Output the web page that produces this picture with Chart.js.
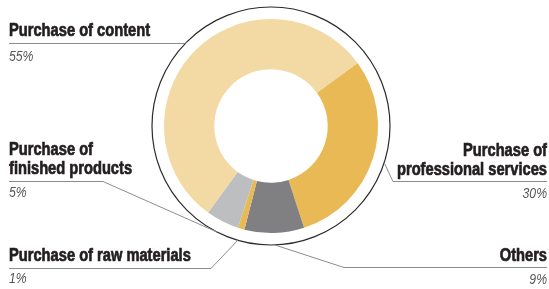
<!DOCTYPE html>
<html>
<head>
<meta charset="utf-8">
<script src="https://cdn.jsdelivr.net/npm/chart.js@4/dist/chart.umd.min.js"></script>
<style>
  html, body { margin: 0; padding: 0; background: #fff; }
  #wrap { position: relative; width: 549px; height: 289px; }
</style>
</head>
<body>
<div id="wrap"><canvas id="chart" width="549" height="289"></canvas></div>
<script>
const categories = [
  "Purchase of professional services",
  "Others",
  "Purchase of raw materials",
  "Purchase of finished products",
  "Purchase of content"
];
const shares = [30, 9, 1, 5, 55];
const sliceColors = ["#E8B954", "#808083", "#E8B954", "#BDBEC0", "#F3D9A3"];

// where each label sits (layout only)
const labelLayout = [
  { side: "right", lines: ["Purchase of", "professional services"], base: 156, rule: 181, elbow: 393, pct: 198 },
  { side: "right", lines: ["Others"], base: 261, rule: 267, elbow: 344, pct: 284 },
  { side: "left", lines: ["Purchase of raw materials"], base: 261, rule: 268, elbow: 211, pct: 283 },
  { side: "left", lines: ["Purchase of", "finished products"], base: 155, rule: 181, elbow: 103, pct: 197 },
  { side: "left", lines: ["Purchase of content"], base: 36, rule: 43, elbow: 185, pct: 61 }
];

const FONT = '"Liberation Sans", Arial, sans-serif';
const SQUEEZE = 0.815; // fake a condensed face
const RING_GAP = 12;

// text drawn narrower horizontally, optionally a bit heavier
function condensedText(ctx, text, x, y, heavy) {
  ctx.save();
  ctx.translate(x, y);
  ctx.scale(SQUEEZE, 1);
  ctx.fillText(text, 0, 0);
  if (heavy) {
    ctx.lineWidth = 0.7;
    ctx.strokeStyle = ctx.fillStyle;
    ctx.strokeText(text, 0, 0);
  }
  ctx.restore();
}

const calloutPlugin = {
  id: "callouts",
  afterDraw(chart) {
    const ctx = chart.ctx;
    const meta = chart.getDatasetMeta(0);
    const first = meta.data[0];
    const cx = first.x, cy = first.y;
    const ringR = first.outerRadius + RING_GAP;

    ctx.save();
    // outer ring
    ctx.beginPath();
    ctx.arc(cx, cy, ringR, 0, Math.PI * 2);
    ctx.strokeStyle = "#2b2b2b";
    ctx.lineWidth = 1.2;
    ctx.stroke();

    meta.data.forEach((arc, i) => {
      const L = labelLayout[i];
      const mid = (arc.startAngle + arc.endAngle) / 2;
      const px = cx + Math.cos(mid) * ringR;
      const py = cy + Math.sin(mid) * ringR;
      const left = L.side === "left";
      const x0 = left ? 9 : 547;

      // leader
      ctx.beginPath();
      ctx.moveTo(x0, L.rule + 0.5);
      ctx.lineTo(L.elbow, L.rule + 0.5);
      ctx.lineTo(px, py);
      ctx.strokeStyle = "#8c8c8c";
      ctx.lineWidth = 1;
      ctx.stroke();

      // title
      ctx.textAlign = left ? "left" : "right";
      ctx.textBaseline = "alphabetic";
      ctx.fillStyle = "#231f20";
      ctx.font = "bold 18px " + FONT;
      L.lines.forEach((t, k) => condensedText(ctx, t, x0, L.base + k * 19, true));

      // value
      ctx.fillStyle = "#555555";
      ctx.font = "italic 15px " + FONT;
      condensedText(ctx, shares[i] + "%", x0, L.pct, false);
    });
    ctx.restore();
  }
};

new Chart(document.getElementById("chart"), {
  type: "doughnut",
  data: {
    labels: categories,
    datasets: [{
      data: shares,
      backgroundColor: sliceColors,
      borderWidth: 0
    }]
  },
  options: {
    responsive: false,
    animation: false,
    rotation: 54,
    cutout: "53%",
    layout: { padding: { left: 164, right: 171, top: 19, bottom: 56 } },
    plugins: {
      legend: { display: false },
      tooltip: { enabled: false }
    }
  },
  plugins: [calloutPlugin]
});
</script>
</body>
</html>
